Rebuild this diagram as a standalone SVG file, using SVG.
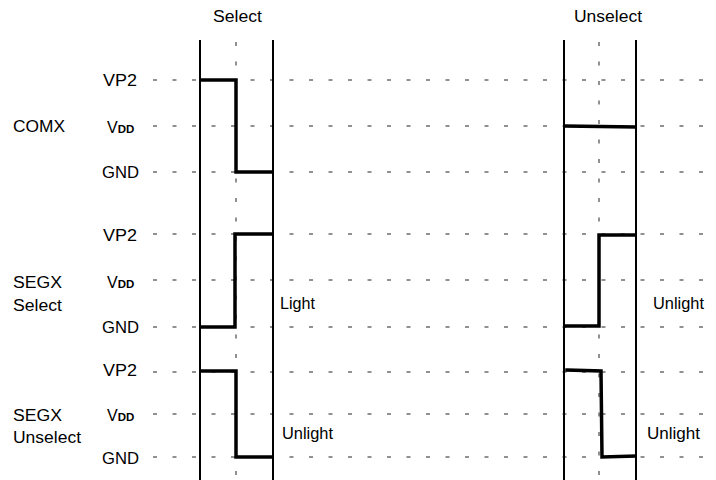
<svg xmlns="http://www.w3.org/2000/svg" width="716" height="480" viewBox="0 0 716 480">
<style>
text{font-family:"Liberation Sans",Arial,sans-serif;font-size:16px;fill:#000}
.sub{font-size:11.5px;font-weight:bold}
.grid{stroke:#222;stroke-width:1;stroke-dasharray:4 15.5;fill:none}
.bar{stroke:#000;stroke-width:2;fill:none}
.wave{stroke:#000;stroke-width:3.5;fill:none;stroke-linejoin:miter;stroke-linecap:square}
</style>
<rect width="716" height="480" fill="#fff"/>
<g id="grid">
<line class="grid" x1="153" y1="80" x2="706" y2="80"/>
<line class="grid" x1="153" y1="126" x2="706" y2="126"/>
<line class="grid" x1="153" y1="172" x2="706" y2="172"/>
<line class="grid" x1="153" y1="234" x2="706" y2="234"/>
<line class="grid" x1="153" y1="280" x2="706" y2="280"/>
<line class="grid" x1="153" y1="327" x2="706" y2="327"/>
<line class="grid" x1="153" y1="372" x2="706" y2="372"/>
<line class="grid" x1="153" y1="414" x2="706" y2="414"/>
<line class="grid" x1="153" y1="457" x2="706" y2="457"/>
<line class="grid" x1="236" y1="42" x2="236" y2="480"/>
<line class="grid" x1="599" y1="42" x2="599" y2="480"/>
</g>
<g id="bars">
<line class="bar" x1="200" y1="40" x2="200" y2="480"/>
<line class="bar" x1="273" y1="40" x2="273" y2="480"/>
<line class="bar" x1="564" y1="40" x2="564" y2="480"/>
<line class="bar" x1="636" y1="40" x2="636" y2="480"/>
</g>
<g id="waves">
<polyline class="wave" points="201,80 236,80 236,172 272,172"/>
<polyline class="wave" points="565,126 635,127"/>
<polyline class="wave" points="201,327 235,327 235,234 272,234"/>
<polyline class="wave" points="565,326 599,326 599,235 635,235"/>
<polyline class="wave" points="201,371 236,371 236,457 272,457"/>
<polyline class="wave" points="567,370 601,371 602,457 635,456"/>
</g>
<g id="col-titles">
<text x="213" y="22" textLength="49" lengthAdjust="spacingAndGlyphs">Select</text>
<text x="574" y="22" textLength="68" lengthAdjust="spacingAndGlyphs">Unselect</text>
</g>
<g id="comx">
<text x="13" y="132" textLength="52" lengthAdjust="spacingAndGlyphs">COMX</text>
<text x="103" y="86" textLength="34" lengthAdjust="spacingAndGlyphs">VP2</text>
<text x="107" y="133">V<tspan class="sub">DD</tspan></text>
<text x="102" y="178" textLength="37" lengthAdjust="spacingAndGlyphs">GND</text>
</g>
<g id="segx-select">
<text x="13" y="288" textLength="49" lengthAdjust="spacingAndGlyphs">SEGX</text>
<text x="13" y="311" textLength="49" lengthAdjust="spacingAndGlyphs">Select</text>
<text x="103" y="241" textLength="34" lengthAdjust="spacingAndGlyphs">VP2</text>
<text x="107" y="288">V<tspan class="sub">DD</tspan></text>
<text x="102" y="333" textLength="37" lengthAdjust="spacingAndGlyphs">GND</text>
<text x="280" y="309" textLength="35" lengthAdjust="spacingAndGlyphs">Light</text>
<text x="653" y="309" textLength="51" lengthAdjust="spacingAndGlyphs">Unlight</text>
</g>
<g id="segx-unselect">
<text x="13" y="421" textLength="49" lengthAdjust="spacingAndGlyphs">SEGX</text>
<text x="13" y="443" textLength="68" lengthAdjust="spacingAndGlyphs">Unselect</text>
<text x="103" y="376" textLength="34" lengthAdjust="spacingAndGlyphs">VP2</text>
<text x="107" y="421">V<tspan class="sub">DD</tspan></text>
<text x="102" y="464" textLength="37" lengthAdjust="spacingAndGlyphs">GND</text>
<text x="282" y="439" textLength="51" lengthAdjust="spacingAndGlyphs">Unlight</text>
<text x="647" y="439" textLength="53" lengthAdjust="spacingAndGlyphs">Unlight</text>
</g>
</svg>
